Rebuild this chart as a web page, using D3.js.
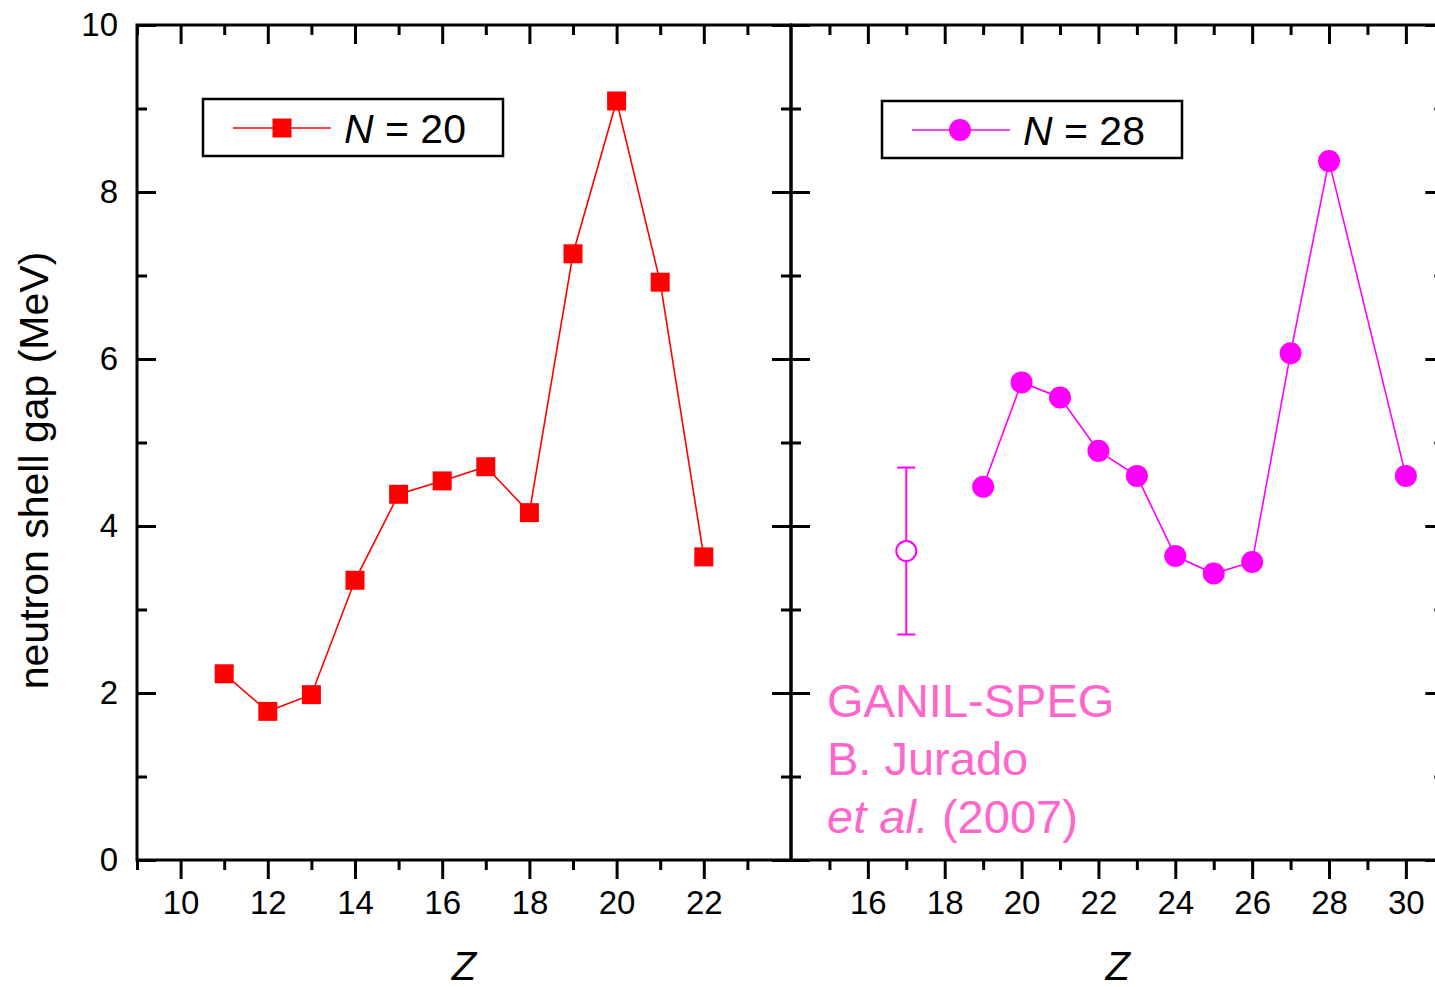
<!DOCTYPE html>
<html>
<head>
<meta charset="utf-8">
<script src="https://cdn.jsdelivr.net/npm/d3@7"></script>
<style>
  html, body { margin: 0; padding: 0; background: #fff; }
  svg { display: block; }
  text { font-family: Arial, "Liberation Sans", Helvetica, sans-serif; }
</style>
</head>
<body>
<script>
// N = 20 isotones: neutron shell gap vs proton number
const zN20 = [11, 12, 13, 14, 15, 16, 17, 18, 19, 20, 21, 22];
const gapN20 = [2.23, 1.78, 1.98, 3.35, 4.38, 4.54, 4.71, 4.16, 7.26, 9.09, 6.92, 3.63];

// N = 28 isotones
const zN28 = [19, 20, 21, 22, 23, 24, 25, 26, 27, 28, 30];
const gapN28 = [4.47, 5.72, 5.54, 4.90, 4.60, 3.64, 3.43, 3.57, 6.07, 8.37, 4.60];

// Single measurement with uncertainty (open symbol)
const zMeasured = [17];
const gapMeasured = [3.70];
const gapMeasuredErr = [1.0];

// Axis ticks
const yMajor = [0, 2, 4, 6, 8, 10];
const yMinor = [1, 3, 5, 7, 9];
const xMajorLeft = [10, 12, 14, 16, 18, 20, 22];
const xMinorLeft = [9, 11, 13, 15, 17, 19, 21, 23];
const xMajorRight = [16, 18, 20, 22, 24, 26, 28, 30];
const xMinorRight = [15, 17, 19, 21, 23, 25, 27, 29];

const annotationLines = ["GANIL-SPEG", "B. Jurado", "(2007)"];

const W = 1435, H = 987;
const svg = d3.select("body").append("svg").attr("width", W).attr("height", H);

const plotTop = 25, plotBottom = 860;
const leftX0 = 137, divX = 791, rightX1 = 1444.3;

const y = d3.scaleLinear().domain([0, 10]).range([plotBottom, plotTop]);
const xL = d3.scaleLinear().domain([9, 24]).range([leftX0, divX]);
const xR = d3.scaleLinear().domain([14, 31]).range([divX, rightX1]);

const MAJ = 19, MIN = 10;
const axisColor = "#000";

function styleAxis(g) {
  g.select(".domain").remove();
  g.selectAll(".tick line").attr("stroke", axisColor).attr("stroke-width", 3);
  g.selectAll(".tick text").attr("fill", "#000").style("font-size", "33px");
}

function drawPanel(x, majors, minors, showYLabels) {
  const x0 = x.range()[0], x1 = x.range()[1];
  // bottom: outward ticks with labels
  svg.append("g").attr("transform", `translate(0,${plotBottom})`)
    .call(d3.axisBottom(x).tickValues(majors).tickSize(MAJ).tickPadding(12).tickFormat(d3.format("d")))
    .call(styleAxis);
  svg.append("g").attr("transform", `translate(0,${plotBottom})`)
    .call(d3.axisBottom(x).tickValues(minors).tickSize(MIN).tickFormat(""))
    .call(styleAxis);
  // top: inward ticks
  svg.append("g").attr("transform", `translate(0,${plotTop})`)
    .call(d3.axisTop(x).tickValues(majors).tickSize(-MAJ).tickFormat(""))
    .call(styleAxis);
  svg.append("g").attr("transform", `translate(0,${plotTop})`)
    .call(d3.axisTop(x).tickValues(minors).tickSize(-MIN).tickFormat(""))
    .call(styleAxis);
  // left: inward ticks
  svg.append("g").attr("transform", `translate(${x0},0)`)
    .call(d3.axisLeft(y).tickValues(yMajor).tickSize(-MAJ).tickPadding(19)
      .tickFormat(showYLabels ? d3.format("d") : ""))
    .call(styleAxis);
  svg.append("g").attr("transform", `translate(${x0},0)`)
    .call(d3.axisLeft(y).tickValues(yMinor).tickSize(-MIN).tickFormat(""))
    .call(styleAxis);
  // right: inward ticks
  svg.append("g").attr("transform", `translate(${x1},0)`)
    .call(d3.axisRight(y).tickValues(yMajor).tickSize(-MAJ).tickFormat(""))
    .call(styleAxis);
  svg.append("g").attr("transform", `translate(${x1},0)`)
    .call(d3.axisRight(y).tickValues(yMinor).tickSize(-MIN).tickFormat(""))
    .call(styleAxis);
  // frame
  svg.append("rect")
    .attr("x", x0).attr("y", plotTop)
    .attr("width", x1 - x0).attr("height", plotBottom - plotTop)
    .attr("fill", "none").attr("stroke", axisColor).attr("stroke-width", 3);
  // axis title
  svg.append("text")
    .attr("x", (x0 + x1) / 2).attr("y", 980)
    .attr("text-anchor", "middle")
    .style("font-size", "40px").style("font-style", "italic")
    .text("Z");
}

drawPanel(xL, xMajorLeft, xMinorLeft, true);
drawPanel(xR, xMajorRight, xMinorRight, false);

// y-axis title
svg.append("text")
  .attr("transform", `translate(48,${(plotTop + plotBottom) / 2 + 28}) rotate(-90)`)
  .attr("text-anchor", "middle")
  .style("font-size", "41px")
  .text("neutron shell gap (MeV)");

const RED = "#ff0000", MAG = "#ff00ff";

// N = 20 series
const ptsL = zN20.map((z, i) => [xL(z), y(gapN20[i])]);
svg.append("path").attr("d", d3.line()(ptsL))
  .attr("fill", "none").attr("stroke", RED).attr("stroke-width", 1.6);
const SQ = 19;
svg.append("g").selectAll("rect").data(ptsL).join("rect")
  .attr("x", d => d[0] - SQ / 2).attr("y", d => d[1] - SQ / 2)
  .attr("width", SQ).attr("height", SQ).attr("fill", RED);

// N = 28 series
const ptsR = zN28.map((z, i) => [xR(z), y(gapN28[i])]);
svg.append("path").attr("d", d3.line()(ptsR))
  .attr("fill", "none").attr("stroke", MAG).attr("stroke-width", 1.6);
svg.append("g").selectAll("circle").data(ptsR).join("circle")
  .attr("cx", d => d[0]).attr("cy", d => d[1]).attr("r", 11).attr("fill", MAG);

// measurement with error bar
const errG = svg.append("g");
zMeasured.forEach((z, i) => {
  const cx = xR(z), v = gapMeasured[i], e = gapMeasuredErr[i];
  const yHi = y(v + e), yLo = y(v - e), cy = y(v), r = 10;
  errG.append("line").attr("x1", cx).attr("x2", cx).attr("y1", yHi).attr("y2", cy - r)
    .attr("stroke", MAG).attr("stroke-width", 2);
  errG.append("line").attr("x1", cx).attr("x2", cx).attr("y1", cy + r).attr("y2", yLo)
    .attr("stroke", MAG).attr("stroke-width", 2);
  [yHi, yLo].forEach(yy => errG.append("line")
    .attr("x1", cx - 9).attr("x2", cx + 9).attr("y1", yy).attr("y2", yy)
    .attr("stroke", MAG).attr("stroke-width", 2));
  errG.append("circle").attr("cx", cx).attr("cy", cy).attr("r", r)
    .attr("fill", "#fff").attr("stroke", MAG).attr("stroke-width", 2);
});

// legends
function legend(x, boxTop, color, label, marker) {
  const g = svg.append("g");
  g.append("rect").attr("x", x).attr("y", boxTop).attr("width", 300).attr("height", 57)
    .attr("fill", "#fff").attr("stroke", "#000").attr("stroke-width", 2.5);
  const ly = boxTop + 29;
  g.append("line").attr("x1", x + 30).attr("x2", x + 128).attr("y1", ly).attr("y2", ly)
    .attr("stroke", color).attr("stroke-width", 1.6);
  if (marker === "square") {
    g.append("rect").attr("x", x + 79 - SQ / 2).attr("y", ly - SQ / 2)
      .attr("width", SQ).attr("height", SQ).attr("fill", color);
  } else {
    g.append("circle").attr("cx", x + 78).attr("cy", ly).attr("r", 11).attr("fill", color);
  }
  const t = g.append("text").attr("x", x + 141).attr("y", boxTop + 44).style("font-size", "41px");
  t.append("tspan").style("font-style", "italic").text("N");
  t.append("tspan").text(" = " + label);
}
legend(203, 99, RED, "20", "square");
legend(882, 101, MAG, "28", "circle");

// source annotation
const PINK = "#ff66cc";
const ann = svg.append("g").style("font-size", "47px").attr("fill", PINK);
ann.append("text").attr("x", 827).attr("y", 717).text(annotationLines[0]);
ann.append("text").attr("x", 827).attr("y", 775).text(annotationLines[1]);
const t3 = ann.append("text").attr("x", 827).attr("y", 833);
t3.append("tspan").style("font-style", "italic").text("et al.");
t3.append("tspan").text(" " + annotationLines[2]);
</script>
</body>
</html>
